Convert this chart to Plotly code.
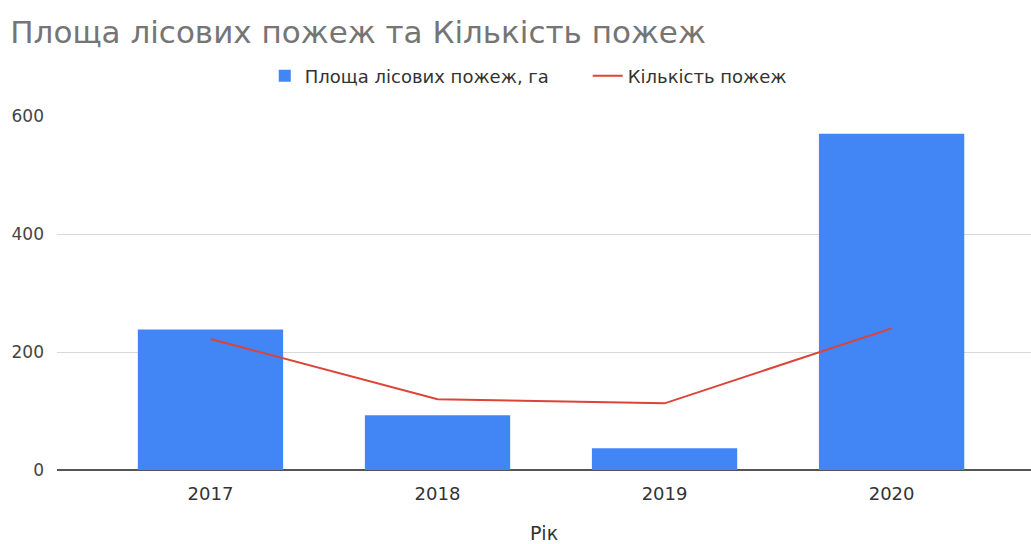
import plotly.graph_objects as go

# Роки та показники лісових пожеж
years = ["2017", "2018", "2019", "2020"]
area_ha = [238, 93, 37, 570]
fire_count = [222, 120, 113, 240]
y_ticks = [0, 200, 400, 600]

FONT = "DejaVu Sans, Liberation Sans, Arial, sans-serif"

fig = go.Figure()
fig.add_trace(go.Bar(
    x=years, y=area_ha, name="Площа лісових пожеж, га",
    marker=dict(color="#4285f4", line=dict(width=0)), width=0.64,
))
fig.add_trace(go.Scatter(
    x=years, y=fire_count, name="Кількість пожеж", mode="lines",
    line=dict(color="#db4437", width=2),
))

fig.update_layout(
    width=1031, height=544,
    margin=dict(l=57, r=0, t=116, b=74),
    paper_bgcolor="white", plot_bgcolor="white",
    font=dict(family=FONT, color="#444444", size=15),
    title=dict(text="Площа лісових пожеж та Кількість пожеж",
               x=0.01, xanchor="left", y=0.94, yanchor="middle",
               font=dict(family=FONT, size=31, color="#757575")),
    legend=dict(orientation="h", x=0.2133, xanchor="left", y=1.113, yanchor="middle",
                entrywidth=278,
                font=dict(family=FONT, size=18, color="#333333"), itemwidth=30),
    showlegend=True,
)
fig.update_xaxes(
    type="category", range=[-0.676, 3.614],
    title=dict(text="Рік", font=dict(family=FONT, size=19, color="#333333"), standoff=28),
    tickfont=dict(family=FONT, size=18, color="#333333"), showgrid=False,
    showline=False, ticks="", ticklabelstandoff=11,
)
fig.update_yaxes(
    range=[0, 600], tickvals=y_ticks, ticktext=[str(v) for v in y_ticks],
    showgrid=True, gridcolor="#d9d9d9", gridwidth=1,
    zeroline=True, zerolinecolor="#555555", zerolinewidth=1.5,
    tickfont=dict(family=FONT, size=17, color="#444444"), ticks="", ticklabelstandoff=12,
)

fig.write_html("out.html")
